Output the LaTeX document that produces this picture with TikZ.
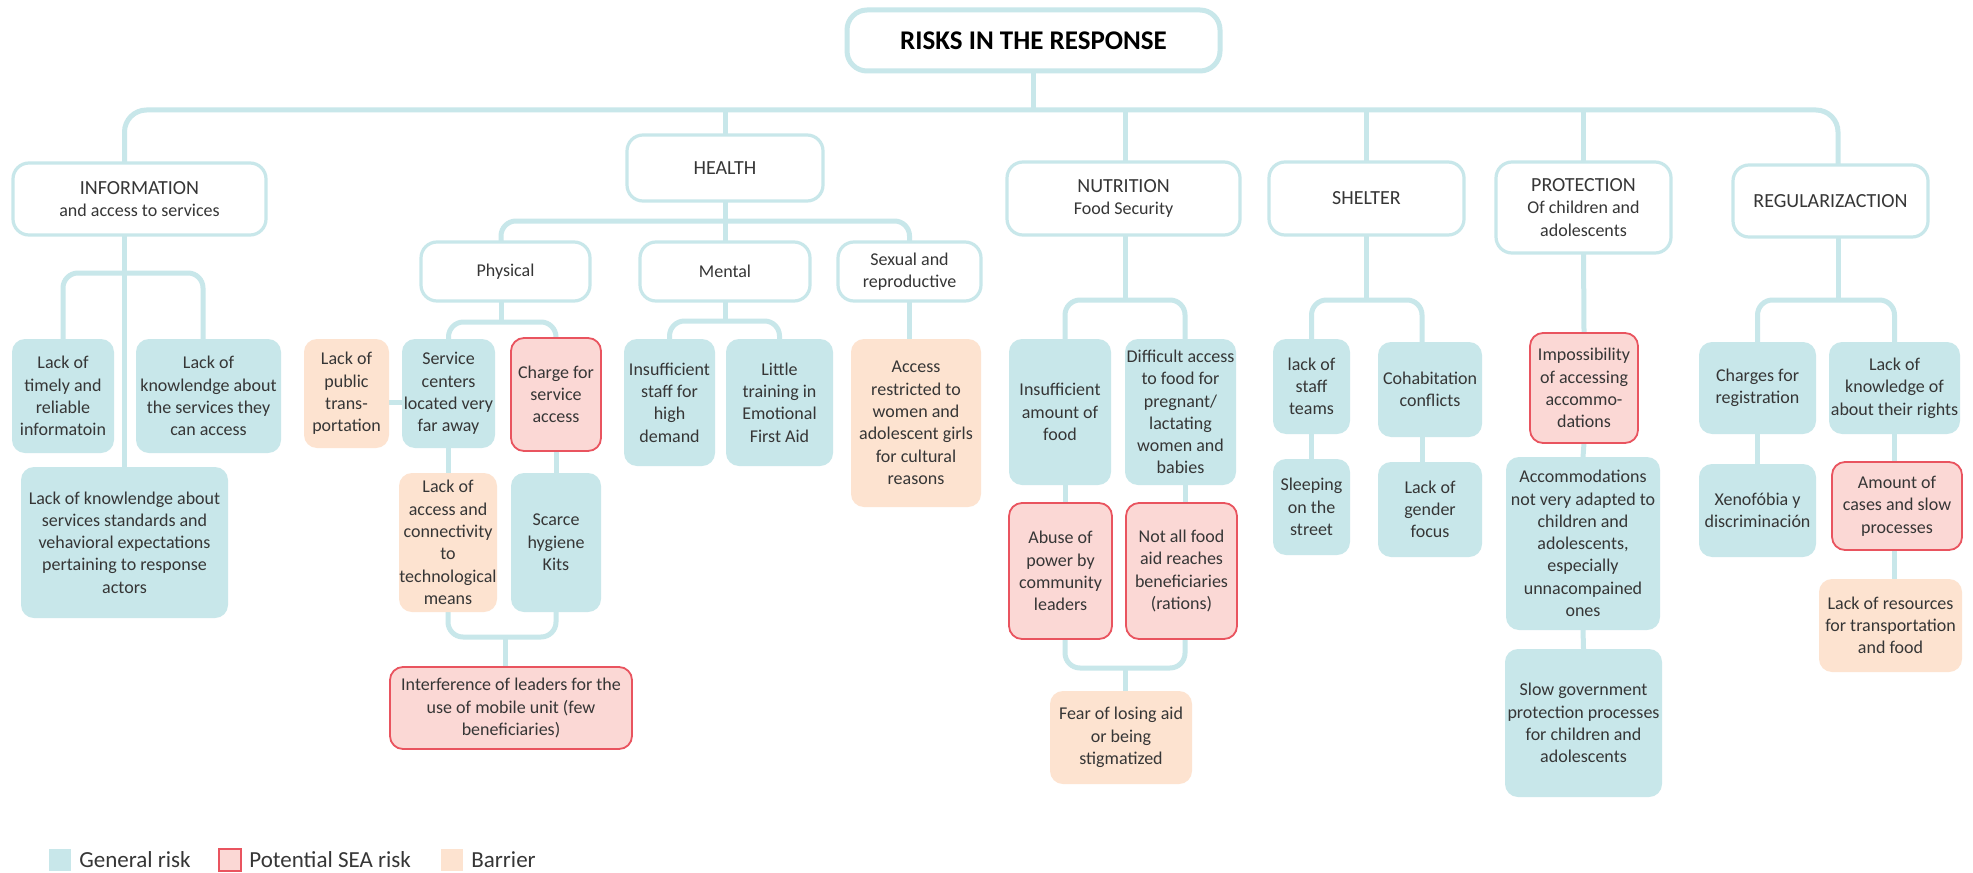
\documentclass[tikz,border=0pt]{standalone}
\usepackage{fontspec}
\setmainfont{Carlito}
\usetikzlibrary{backgrounds}
\definecolor{tealc}{HTML}{C8E7EA}
\definecolor{pinkc}{HTML}{FBD8D5}
\definecolor{redc}{HTML}{E9545F}
\definecolor{peachc}{HTML}{FDE3D0}
\definecolor{txt}{HTML}{363636}
\newcommand\mkbox[7]{\node[#1, minimum width={(#5-#3)*0.5pt}, minimum height={(#6-#4)*0.5pt}] (#2) at ({(#3+#5)/2},{(#4+#6)/2}) {#7};}
\newcommand\capw[1]{{\fontsize{10}{11.15}\selectfont #1}}
\tikzset{
 bxbase/.style={rectangle, rounded corners=6.5pt, inner sep=0pt, outer sep=0pt, align=center, font=\fontsize{9}{11.15}\selectfont, text=txt},
 bxgen/.style={bxbase, fill=tealc},
 bxsea/.style={bxbase, fill=pinkc, draw=redc, line width=0.9pt},
 bxbarr/.style={bxbase, fill=peachc},
 bxcat/.style={bxbase, fill=white, draw=tealc, line width=1.6pt, rounded corners=8pt},
 bxroot/.style={bxcat, line width=2.5pt, rounded corners=10pt, font=\fontsize{13.5}{16}\selectfont\bfseries, text=black},
 conn/.style={draw=tealc, line width=2.5pt},
 rc/.style={rounded corners=7.5pt},
 legtxt/.style={font=\fontsize{11.5}{13}\selectfont, text=txt, inner sep=0pt, anchor=base west},
 legsq/.style={rectangle, minimum size=11pt, inner sep=0pt},
}
\begin{document}
\begin{tikzpicture}[x=0.5pt, y=-0.5pt]
\useasboundingbox (0,0) rectangle (1973,872);
% root and categories
\mkbox{bxroot}{root}{847}{10}{1220}{71}{RISKS IN THE RESPONSE}
\mkbox{bxcat}{info}{13}{163}{266}{235}{\capw{INFORMATION}\\and access to services}
\mkbox{bxcat}{health}{627}{135}{823}{201}{\capw{HEALTH}}
\mkbox{bxcat}{nutr}{1007}{162}{1240}{235}{\capw{NUTRITION}\\Food Security}
\mkbox{bxcat}{shelter}{1269}{162}{1464}{235}{\capw{SHELTER}}
\mkbox{bxcat}{prot}{1496}{162}{1671}{253}{\capw{PROTECTION}\\Of children and\\adolescents}
\mkbox{bxcat}{regu}{1733}{165}{1928}{237}{\capw{REGULARIZACTION}}
\mkbox{bxcat}{phys}{421}{242}{590}{301}{Physical}
\mkbox{bxcat}{mental}{640}{242}{810}{301}{Mental}
\mkbox{bxcat}{sexual}{838}{242}{981}{301}{Sexual and\\reproductive}
% information
\mkbox{bxgen}{l1}{12}{339}{114}{453}{Lack of\\timely and\\reliable\\informatoin}
\mkbox{bxgen}{l2}{136}{339}{281}{453}{Lack of\\knowlendge about\\the services they\\can access}
\mkbox{bxgen}{l3}{21}{467}{228}{618}{Lack of knowlendge about\\services standards and\\vehavioral expectations\\pertaining to response\\actors}
% physical
\mkbox{bxbarr}{lackpub}{304}{339}{389}{448}{Lack of\\public\\trans-\\portation}
\mkbox{bxgen}{svc}{402}{339}{495}{448}{Service\\centers\\located very\\far away}
\mkbox{bxsea}{charge}{511}{338}{601}{451}{Charge for\\service\\access}
\mkbox{bxbarr}{lackacc}{399}{473}{497}{612}{Lack of\\access and\\connectivity\\to\\technological\\means}
\mkbox{bxgen}{scarce}{511}{473}{601}{612}{Scarce\\hygiene\\Kits}
\mkbox{bxsea}{interf}{390}{667}{632}{749}{Interference of leaders for the\\use of mobile unit (few\\beneficiaries)}
% mental, sexual
\mkbox{bxgen}{ins}{624}{339}{715}{466}{Insufficient\\staff for\\high\\demand}
\mkbox{bxgen}{little}{726}{339}{833}{466}{Little\\training in\\Emotional\\First Aid}
\mkbox{bxbarr}{access}{851}{339}{981}{507}{Access\\restricted to\\women and\\adolescent girls\\for cultural\\reasons}
% nutrition
\mkbox{bxgen}{food}{1009}{339}{1111}{485}{Insufficient\\amount of\\food}
\mkbox{bxgen}{diff}{1125}{339}{1236}{485}{Difficult access\\to food for\\pregnant/\\lactating\\women and\\babies}
\mkbox{bxsea}{abuse}{1009}{503}{1112}{639}{Abuse of\\power by\\community\\leaders}
\mkbox{bxsea}{notall}{1126}{503}{1237}{639}{Not all food\\aid reaches\\beneficiaries\\(rations)}
\mkbox{bxbarr}{fear}{1050}{691}{1192}{784}{Fear of losing aid\\or being\\stigmatized}
% shelter
\mkbox{bxgen}{staff}{1273}{339}{1350}{434}{lack of\\staff\\teams}
\mkbox{bxgen}{cohab}{1378}{342}{1482}{437}{Cohabitation\\conflicts}
\mkbox{bxgen}{sleep}{1273}{459}{1350}{555}{Sleeping\\on the\\street}
\mkbox{bxgen}{gender}{1378}{462}{1482}{557}{Lack of\\gender\\focus}
% protection
\mkbox{bxsea}{imp}{1530}{333}{1638}{443}{Impossibility\\of accessing\\accommo-\\dations}
\mkbox{bxgen}{accom}{1506}{457}{1660}{630}{Accommodations\\not very adapted to\\children and\\adolescents,\\especially\\unnacompained\\ones}
\mkbox{bxgen}{slow}{1505}{649}{1662}{797}{Slow government\\protection processes\\for children and\\adolescents}
% regularization
\mkbox{bxgen}{charges}{1699}{342}{1816}{434}{Charges for\\registration}
\mkbox{bxgen}{rights}{1829}{342}{1960}{434}{Lack of\\knowledge of\\about their rights}
\mkbox{bxgen}{xeno}{1699}{464}{1816}{557}{Xenofóbia y\\discriminación}
\mkbox{bxsea}{amount}{1832}{462}{1962}{550}{Amount of\\cases and slow\\processes}
\mkbox{bxbarr}{resources}{1819}{579}{1962}{672}{Lack of resources\\for transportation\\and food}
% legend
\node[legsq, fill=tealc] (lg1) at (60,860) {};
\node[legtxt] (lt1) at (79,867) {General risk};
\node[legsq, fill=pinkc, draw=redc, line width=0.8pt] (lg2) at (230,860) {};
\node[legtxt] (lt2) at (249,867) {Potential SEA risk};
\node[legsq, fill=peachc] (lg3) at (451.5,860) {};
\node[legtxt] (lt3) at (471,867) {Barrier};
% helper coordinates
\coordinate (mainbar) at (0,110);
\coordinate (rstem) at (1838,0);
\coordinate (ibar) at (0,273);
\coordinate (cL2) at (203,0);
\coordinate (hbar) at (0,221);
\coordinate (cPhys) at (501,0);
\coordinate (pbar) at (0,322);
\coordinate (ibar2) at (0,637);
\coordinate (cInt) at (505,0);
\coordinate (mbar) at (0,321);
\coordinate (nbar) at (0,300);
\coordinate (nbar2) at (0,668);
\coordinate (cN) at (1125,0);
\coordinate (cN1) at (1065,0);
\coordinate (cN2) at (1185,0);
\coordinate (sbar) at (0,300);
\coordinate (cS2) at (1422,0);
\coordinate (rbar) at (0,300);
\begin{pgfonlayer}{background}
\fill[white] (0,0) rectangle (1973,872);
% main
\draw[conn, rounded corners=11pt] (info.north -| l3.north) -- (l3.north |- mainbar) -- (mainbar -| rstem) -- (rstem |- regu.north);
\draw[conn] (root.south) -- (root.south |- mainbar);
\draw[conn] (health.north) -- (health.north |- mainbar);
\draw[conn] (nutr.north -| cN) -- (cN |- mainbar);
\draw[conn] (shelter.north) -- (shelter.north |- mainbar);
\draw[conn] (prot.north) -- (prot.north |- mainbar);
% information
\draw[conn] (info.south -| l3.north) -- (l3.north);
\draw[conn, rc] (l1.north) -- (l1.north |- ibar) -- (ibar -| cL2) -- (l2.north -| cL2);
% health
\draw[conn] (health.south) -- (mental.north);
\draw[conn, rc] (phys.north -| cPhys) -- (cPhys |- hbar) -- (hbar -| sexual.north) -- (sexual.north);
% physical
\draw[conn] (phys.south -| cPhys) -- (cPhys |- pbar);
\draw[conn, rc] (svc.north) -- (svc.north |- pbar) -- (pbar -| charge.north) -- (charge.north);
\draw[conn] ([yshift=-4.25pt]lackpub.east) -- ([yshift=-4.25pt]svc.west);
\draw[conn] (svc.south) -- (svc.south |- lackacc.north);
\draw[conn] (charge.south) -- (scarce.north);
\draw[conn, rc] (lackacc.south) -- (lackacc.south |- ibar2) -- (ibar2 -| scarce.south) -- (scarce.south);
\draw[conn] (interf.north -| cInt) -- (cInt |- ibar2);
% mental, sexual
\draw[conn] (mental.south) -- (mental.south |- mbar);
\draw[conn, rc] (ins.north) -- (ins.north |- mbar) -- (mbar -| little.north) -- (little.north);
\draw[conn] (sexual.south) -- (sexual.south |- access.north);
% nutrition
\draw[conn] (nutr.south -| cN) -- (cN |- nbar);
\draw[conn, rc] (food.north -| cN1) -- (cN1 |- nbar) -- (nbar -| cN2) -- (diff.north -| cN2);
\draw[conn] (food.south -| cN1) -- (abuse.north -| cN1);
\draw[conn] (diff.south -| cN2) -- (notall.north -| cN2);
\draw[conn, rc] (abuse.south -| cN1) -- (cN1 |- nbar2) -- (nbar2 -| cN2) -- (notall.south -| cN2);
\draw[conn] (fear.north -| cN) -- (cN |- nbar2);
% shelter
\draw[conn] (shelter.south) -- (shelter.south |- sbar);
\draw[conn, rc] (staff.north) -- (staff.north |- sbar) -- (sbar -| cS2) -- (cohab.north -| cS2);
\draw[conn] (staff.south) -- (sleep.north);
\draw[conn] (cohab.south -| cS2) -- (gender.north -| cS2);
% protection
\draw[conn] (prot.south) -- (imp.north);
\draw[conn] (imp.south) -- (accom.north);
\draw[conn] (accom.south) -- (slow.north);
% regularization
\draw[conn] (regu.south -| rstem) -- (rstem |- rbar);
\draw[conn, rc] (charges.north) -- (charges.north |- rbar) -- (rbar -| rights.north) -- (rights.north);
\draw[conn] (charges.south) -- (xeno.north);
\draw[conn] (rights.south) -- (rights.south |- amount.north);
\draw[conn] (amount.south -| rights.south) -- (resources.north -| rights.south);
\end{pgfonlayer}
\end{tikzpicture}
\end{document}
